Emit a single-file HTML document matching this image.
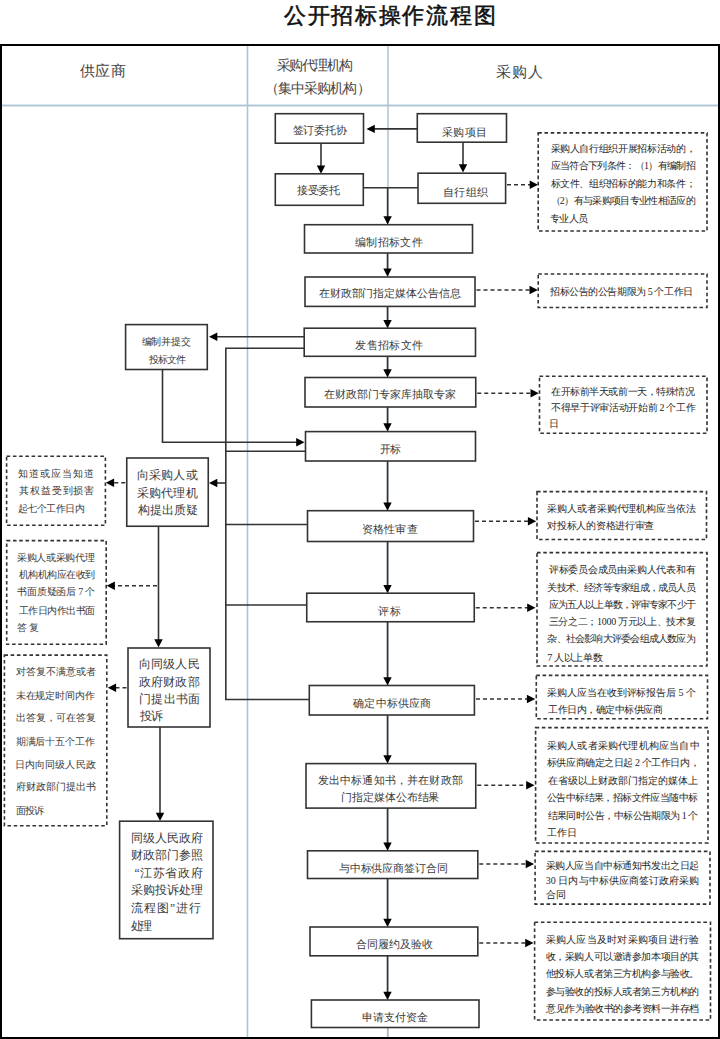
<!DOCTYPE html>
<html><head><meta charset="utf-8"><title>公开招标操作流程图</title>
<style>
html,body{margin:0;padding:0;background:#fff;}
body{width:720px;height:1039px;overflow:hidden;position:relative;font-family:"Liberation Serif", serif;}
svg{position:absolute;left:0;top:0;display:block;}
</style></head><body>
<svg width="720" height="1039" viewBox="0 0 720 1039">
<rect x="1" y="45" width="718" height="993" fill="none" stroke="#000" stroke-width="2"/>
<rect x="2" y="104" width="716" height="3" fill="#e6f3fa"/>
<rect x="246.5" y="46" width="2" height="991" fill="#eaf5fb"/>
<rect x="387" y="46" width="2" height="991" fill="#eaf5fb"/>
<line x1="2" y1="105.5" x2="718" y2="105.5" stroke="#b0c4ce" stroke-width="1.5"/>
<line x1="247.5" y1="46" x2="247.5" y2="1037" stroke="#b0c4ce" stroke-width="1.4"/>
<line x1="388" y1="46" x2="388" y2="1037" stroke="#b0c4ce" stroke-width="1.4"/>
<path d="M417.3,128.9 L373.8,128.9" fill="none" stroke="#333" stroke-width="1.6"/>
<polygon points="366.50,128.90 374.80,124.70 374.80,133.10" fill="#000"/>
<path d="M321,143.2 L321,166.5" fill="none" stroke="#333" stroke-width="1.6"/>
<polygon points="321.00,173.80 316.80,165.50 325.20,165.50" fill="#000"/>
<path d="M463,142.1 L463,165.2" fill="none" stroke="#333" stroke-width="1.6"/>
<polygon points="463.00,172.50 458.80,164.20 467.20,164.20" fill="#000"/>
<path d="M363.3,187.8 L418,187.8" fill="none" stroke="#333" stroke-width="1.6"/>
<path d="M387.6,187.8 L387.6,217.2" fill="none" stroke="#333" stroke-width="1.6"/>
<polygon points="387.60,224.50 383.40,216.20 391.80,216.20" fill="#000"/>
<path d="M505.5,184.8 L530.7,184.8" fill="none" stroke="#333" stroke-width="1.6" stroke-dasharray="4 3" stroke-dashoffset="-1.5"/>
<polygon points="538.00,184.80 529.70,180.60 529.70,189.00" fill="#000"/>
<path d="M387.5,253 L387.5,269.5" fill="none" stroke="#333" stroke-width="1.6"/>
<polygon points="387.50,276.80 383.30,268.50 391.70,268.50" fill="#000"/>
<path d="M475,290 L530.5,290" fill="none" stroke="#333" stroke-width="1.6" stroke-dasharray="4 3" stroke-dashoffset="-1.5"/>
<polygon points="537.80,290.00 529.50,285.80 529.50,294.20" fill="#000"/>
<path d="M387.5,306.5 L387.5,320.9" fill="none" stroke="#333" stroke-width="1.6"/>
<polygon points="387.50,328.20 383.30,319.90 391.70,319.90" fill="#000"/>
<path d="M304.2,336.7 L216.3,336.7" fill="none" stroke="#333" stroke-width="1.6"/>
<polygon points="209.00,336.70 217.30,332.50 217.30,340.90" fill="#000"/>
<path d="M304.2,348.3 L225.8,348.3 L225.8,699.5 L309.5,699.5" fill="none" stroke="#333" stroke-width="1.6"/>
<path d="M387.5,356.3 L387.5,370.2" fill="none" stroke="#333" stroke-width="1.6"/>
<polygon points="387.50,377.50 383.30,369.20 391.70,369.20" fill="#000"/>
<path d="M475.75,393.25 L531.5,393.25" fill="none" stroke="#333" stroke-width="1.6" stroke-dasharray="4 3" stroke-dashoffset="-1.5"/>
<polygon points="538.80,393.25 530.50,389.05 530.50,397.45" fill="#000"/>
<path d="M387.5,407 L387.5,424.2" fill="none" stroke="#333" stroke-width="1.6"/>
<polygon points="387.50,431.50 383.30,423.20 391.70,423.20" fill="#000"/>
<path d="M162.5,369.5 L162.5,442.2 L297.2,442.2" fill="none" stroke="#333" stroke-width="1.6"/>
<polygon points="304.50,442.20 296.20,438.00 296.20,446.40" fill="#000"/>
<path d="M225.8,451.3 L305.5,451.3" fill="none" stroke="#333" stroke-width="1.6"/>
<path d="M225.8,483 L216.3,483" fill="none" stroke="#333" stroke-width="1.6"/>
<polygon points="209.00,483.00 217.30,478.80 217.30,487.20" fill="#000"/>
<path d="M126.75,482.8 L113.1,482.8" fill="none" stroke="#333" stroke-width="1.6" stroke-dasharray="4 3" stroke-dashoffset="-1.5"/>
<polygon points="105.80,482.80 114.10,478.60 114.10,487.00" fill="#000"/>
<path d="M387.5,461 L387.5,503.4" fill="none" stroke="#333" stroke-width="1.6"/>
<polygon points="387.50,510.70 383.30,502.40 391.70,502.40" fill="#000"/>
<path d="M225.8,524.5 L307.5,524.5" fill="none" stroke="#333" stroke-width="1.6"/>
<path d="M473.5,521.25 L528.9000000000001,521.25" fill="none" stroke="#333" stroke-width="1.6" stroke-dasharray="4 3" stroke-dashoffset="-1.5"/>
<polygon points="536.20,521.25 527.90,517.05 527.90,525.45" fill="#000"/>
<path d="M158.5,526.25 L158.5,640.3000000000001" fill="none" stroke="#333" stroke-width="1.6"/>
<polygon points="158.50,647.60 154.30,639.30 162.70,639.30" fill="#000"/>
<path d="M158.5,585.8 L113.89999999999999,585.8" fill="none" stroke="#333" stroke-width="1.6" stroke-dasharray="4 3" stroke-dashoffset="-1.5"/>
<polygon points="106.60,585.80 114.90,581.60 114.90,590.00" fill="#000"/>
<path d="M387.5,541.5 L387.5,585.9000000000001" fill="none" stroke="#333" stroke-width="1.6"/>
<polygon points="387.50,593.20 383.30,584.90 391.70,584.90" fill="#000"/>
<path d="M225.8,605 L306.75,605" fill="none" stroke="#333" stroke-width="1.6"/>
<path d="M474.25,607.75 L528.2,607.75" fill="none" stroke="#333" stroke-width="1.6" stroke-dasharray="4 3" stroke-dashoffset="-1.5"/>
<polygon points="535.50,607.75 527.20,603.55 527.20,611.95" fill="#000"/>
<path d="M387.5,621.75 L387.5,678.2" fill="none" stroke="#333" stroke-width="1.6"/>
<polygon points="387.50,685.50 383.30,677.20 391.70,677.20" fill="#000"/>
<path d="M128,687.8 L115.1,687.8" fill="none" stroke="#333" stroke-width="1.6" stroke-dasharray="4 3" stroke-dashoffset="-1.5"/>
<polygon points="107.80,687.80 116.10,683.60 116.10,692.00" fill="#000"/>
<path d="M160,727 L160,813.7" fill="none" stroke="#333" stroke-width="1.6"/>
<polygon points="160.00,821.00 155.80,812.70 164.20,812.70" fill="#000"/>
<path d="M474.5,699 L527.9000000000001,699" fill="none" stroke="#333" stroke-width="1.6" stroke-dasharray="4 3" stroke-dashoffset="-1.5"/>
<polygon points="535.20,699.00 526.90,694.80 526.90,703.20" fill="#000"/>
<path d="M387.5,715 L387.5,756.2" fill="none" stroke="#333" stroke-width="1.6"/>
<polygon points="387.50,763.50 383.30,755.20 391.70,755.20" fill="#000"/>
<path d="M475.75,785.2 L527.2,785.2" fill="none" stroke="#333" stroke-width="1.6" stroke-dasharray="4 3" stroke-dashoffset="-1.5"/>
<polygon points="534.50,785.20 526.20,781.00 526.20,789.40" fill="#000"/>
<path d="M387.5,808 L387.5,843.5" fill="none" stroke="#333" stroke-width="1.6"/>
<polygon points="387.50,850.80 383.30,842.50 391.70,842.50" fill="#000"/>
<path d="M477.8,864 L526.7,864" fill="none" stroke="#333" stroke-width="1.6" stroke-dasharray="4 3" stroke-dashoffset="-1.5"/>
<polygon points="534.00,864.00 525.70,859.80 525.70,868.20" fill="#000"/>
<path d="M387.5,878.5 L387.5,919.7" fill="none" stroke="#333" stroke-width="1.6"/>
<polygon points="387.50,927.00 383.30,918.70 391.70,918.70" fill="#000"/>
<path d="M477.8,943 L526.2,943" fill="none" stroke="#333" stroke-width="1.6" stroke-dasharray="4 3" stroke-dashoffset="-1.5"/>
<polygon points="533.50,943.00 525.20,938.80 525.20,947.20" fill="#000"/>
<path d="M387.5,955.8 L387.5,992.7" fill="none" stroke="#333" stroke-width="1.6"/>
<polygon points="387.50,1000.00 383.30,991.70 391.70,991.70" fill="#000"/>
<path d="M387.5,1027.5 L387.5,1037" fill="none" stroke="#9fb6c4" stroke-width="1.2"/>
<rect x="275.3" y="113.7" width="88.20" height="29.50" fill="#fff" stroke="#333" stroke-width="1.6"/>
<rect x="275.3" y="173.8" width="88.00" height="31.50" fill="#fff" stroke="#333" stroke-width="1.6"/>
<rect x="417.3" y="113.7" width="89.20" height="28.50" fill="#fff" stroke="#333" stroke-width="1.6"/>
<rect x="418" y="173.2" width="87.60" height="30.10" fill="#fff" stroke="#333" stroke-width="1.6"/>
<rect x="304.5" y="224.7" width="168.00" height="28.30" fill="#fff" stroke="#333" stroke-width="1.6"/>
<rect x="305" y="277" width="170.00" height="29.40" fill="#fff" stroke="#333" stroke-width="1.6"/>
<rect x="304.2" y="328.2" width="171.30" height="28.10" fill="#fff" stroke="#333" stroke-width="1.6"/>
<rect x="305" y="377.5" width="170.75" height="29.50" fill="#fff" stroke="#333" stroke-width="1.6"/>
<rect x="305.5" y="431.6" width="170.00" height="29.40" fill="#fff" stroke="#333" stroke-width="1.6"/>
<rect x="307.5" y="510.7" width="166.00" height="30.80" fill="#fff" stroke="#333" stroke-width="1.6"/>
<rect x="306.75" y="593.2" width="167.50" height="28.55" fill="#fff" stroke="#333" stroke-width="1.6"/>
<rect x="309.3" y="685.5" width="165.10" height="29.50" fill="#fff" stroke="#333" stroke-width="1.6"/>
<rect x="306" y="763.6" width="169.75" height="44.50" fill="#fff" stroke="#333" stroke-width="1.6"/>
<rect x="307.5" y="850.8" width="170.30" height="27.70" fill="#fff" stroke="#333" stroke-width="1.6"/>
<rect x="310" y="927" width="167.80" height="28.80" fill="#fff" stroke="#333" stroke-width="1.6"/>
<rect x="311.4" y="1000" width="167.60" height="27.50" fill="#fff" stroke="#333" stroke-width="1.6"/>
<rect x="125.6" y="324.6" width="81.70" height="44.90" fill="#fff" stroke="#333" stroke-width="1.6"/>
<rect x="126.75" y="458" width="81.50" height="68.25" fill="#fff" stroke="#333" stroke-width="1.6"/>
<rect x="128" y="648" width="82.00" height="79.00" fill="#fff" stroke="#333" stroke-width="1.6"/>
<rect x="119.6" y="821.2" width="93.40" height="117.50" fill="#fff" stroke="#333" stroke-width="1.6"/>
<rect x="538.2" y="132.9" width="168.80" height="98.10" fill="none" stroke="#333" stroke-width="1.6" stroke-dasharray="3.6 2.65"/>
<rect x="538.2" y="274" width="168.80" height="33.50" fill="none" stroke="#333" stroke-width="1.6" stroke-dasharray="3.6 2.65"/>
<rect x="539.5" y="376.3" width="167.50" height="56.90" fill="none" stroke="#333" stroke-width="1.6" stroke-dasharray="3.6 2.65"/>
<rect x="537" y="491.6" width="169.50" height="47.90" fill="none" stroke="#333" stroke-width="1.6" stroke-dasharray="3.6 2.65"/>
<rect x="537" y="552.6" width="170.00" height="113.40" fill="none" stroke="#333" stroke-width="1.6" stroke-dasharray="3.6 2.65"/>
<rect x="536.3" y="675.4" width="171.20" height="43.30" fill="none" stroke="#333" stroke-width="1.6" stroke-dasharray="3.6 2.65"/>
<rect x="535.6" y="727.6" width="172.40" height="115.40" fill="none" stroke="#333" stroke-width="1.6" stroke-dasharray="3.6 2.65"/>
<rect x="535.1" y="851.4" width="174.90" height="52.70" fill="none" stroke="#333" stroke-width="1.6" stroke-dasharray="3.6 2.65"/>
<rect x="534.6" y="922.2" width="175.90" height="97.80" fill="none" stroke="#333" stroke-width="1.6" stroke-dasharray="3.6 2.65"/>
<rect x="6.6" y="456.2" width="98.80" height="69.00" fill="none" stroke="#333" stroke-width="1.6" stroke-dasharray="3.6 2.65"/>
<rect x="6.7" y="540.6" width="99.50" height="103.70" fill="none" stroke="#333" stroke-width="1.6" stroke-dasharray="3.6 2.65"/>
<rect x="4.4" y="655.1" width="102.40" height="170.60" fill="none" stroke="#333" stroke-width="1.6" stroke-dasharray="3.6 2.65"/>
<text x="283.80" y="15.00" font-size="22" fill="#111" font-weight="normal" style="font-family:'Liberation Sans', sans-serif" dominant-baseline="central" textLength="211.72" lengthAdjust="spacing" stroke="#111" stroke-width="0.55">公开招标操作流程图</text>
<text x="79.80" y="70.70" font-size="15" fill="#444" font-weight="normal" style="font-family:'Liberation Serif', serif" dominant-baseline="central" textLength="45.90" lengthAdjust="spacing">供应商</text>
<text x="276.80" y="65.16" font-size="14" fill="#444" font-weight="normal" style="font-family:'Liberation Serif', serif" dominant-baseline="central" textLength="76.40" lengthAdjust="spacing">采购代理机构</text>
<text x="264.90" y="88.00" font-size="14" fill="#444" font-weight="normal" style="font-family:'Liberation Serif', serif" dominant-baseline="central" textLength="105.62" lengthAdjust="spacing">（集中采购机构）</text>
<text x="495.72" y="72.00" font-size="15" fill="#444" font-weight="normal" style="font-family:'Liberation Serif', serif" dominant-baseline="central" textLength="47.10" lengthAdjust="spacing">采购人</text>
<text x="292.62" y="130.38" font-size="11" fill="#3a3a3a" font-weight="normal" style="font-family:'Liberation Serif', serif" dominant-baseline="central" textLength="53.92" lengthAdjust="spacing">签订委托协</text>
<text x="297.38" y="190.26" font-size="11" fill="#3a3a3a" font-weight="normal" style="font-family:'Liberation Serif', serif" dominant-baseline="central" textLength="42.58" lengthAdjust="spacing">接受委托</text>
<text x="442.18" y="131.58" font-size="11" fill="#3a3a3a" font-weight="normal" style="font-family:'Liberation Serif', serif" dominant-baseline="central" textLength="44.84" lengthAdjust="spacing">采购项目</text>
<text x="442.98" y="191.58" font-size="11" fill="#3a3a3a" font-weight="normal" style="font-family:'Liberation Serif', serif" dominant-baseline="central" textLength="45.34" lengthAdjust="spacing">自行组织</text>
<text x="354.80" y="241.80" font-size="11" fill="#3a3a3a" font-weight="normal" style="font-family:'Liberation Serif', serif" dominant-baseline="central" textLength="67.85" lengthAdjust="spacing">编制招标文件</text>
<text x="318.80" y="293.05" font-size="11" fill="#3a3a3a" font-weight="normal" style="font-family:'Liberation Serif', serif" dominant-baseline="central" textLength="141.90" lengthAdjust="spacing">在财政部门指定媒体公告信息</text>
<text x="355.40" y="345.05" font-size="11" fill="#3a3a3a" font-weight="normal" style="font-family:'Liberation Serif', serif" dominant-baseline="central" textLength="67.80" lengthAdjust="spacing">发售招标文件</text>
<text x="324.30" y="394.30" font-size="11" fill="#3a3a3a" font-weight="normal" style="font-family:'Liberation Serif', serif" dominant-baseline="central" textLength="131.40" lengthAdjust="spacing">在财政部门专家库抽取专家</text>
<text x="380.00" y="448.75" font-size="11" fill="#3a3a3a" font-weight="normal" style="font-family:'Liberation Serif', serif" dominant-baseline="central" textLength="21.25" lengthAdjust="spacing">开标</text>
<text x="361.80" y="528.75" font-size="11" fill="#3a3a3a" font-weight="normal" style="font-family:'Liberation Serif', serif" dominant-baseline="central" textLength="55.90" lengthAdjust="spacing">资格性审查</text>
<text x="377.90" y="610.55" font-size="11" fill="#3a3a3a" font-weight="normal" style="font-family:'Liberation Serif', serif" dominant-baseline="central" textLength="23.35" lengthAdjust="spacing">评标</text>
<text x="353.25" y="703.25" font-size="11" fill="#3a3a3a" font-weight="normal" style="font-family:'Liberation Serif', serif" dominant-baseline="central" textLength="77.95" lengthAdjust="spacing">确定中标供应商</text>
<text x="317.90" y="780.00" font-size="11" fill="#3a3a3a" font-weight="normal" style="font-family:'Liberation Serif', serif" dominant-baseline="central" textLength="144.75" lengthAdjust="spacing">发出中标通知书，并在财政部</text>
<text x="341.30" y="797.30" font-size="11" fill="#3a3a3a" font-weight="normal" style="font-family:'Liberation Serif', serif" dominant-baseline="central" textLength="98.15" lengthAdjust="spacing">门指定媒体公布结果</text>
<text x="338.75" y="867.55" font-size="11" fill="#3a3a3a" font-weight="normal" style="font-family:'Liberation Serif', serif" dominant-baseline="central" textLength="108.90" lengthAdjust="spacing">与中标供应商签订合同</text>
<text x="355.55" y="944.30" font-size="11" fill="#3a3a3a" font-weight="normal" style="font-family:'Liberation Serif', serif" dominant-baseline="central" textLength="77.10" lengthAdjust="spacing">合同履约及验收</text>
<text x="361.80" y="1016.80" font-size="11" fill="#3a3a3a" font-weight="normal" style="font-family:'Liberation Serif', serif" dominant-baseline="central" textLength="66.40" lengthAdjust="spacing">申请支付资金</text>
<text x="141.72" y="341.38" font-size="10" fill="#3a3a3a" font-weight="normal" style="font-family:'Liberation Serif', serif" dominant-baseline="central" textLength="49.10" lengthAdjust="spacing">编制并提交</text>
<text x="148.54" y="359.04" font-size="10" fill="#3a3a3a" font-weight="normal" style="font-family:'Liberation Serif', serif" dominant-baseline="central" textLength="37.04" lengthAdjust="spacing">投标文件</text>
<text x="136.80" y="475.00" font-size="11.5" fill="#3a3a3a" font-weight="normal" style="font-family:'Liberation Serif', serif" dominant-baseline="central" textLength="60.85" lengthAdjust="spacing">向采购人或</text>
<text x="136.80" y="492.62" font-size="11.5" fill="#3a3a3a" font-weight="normal" style="font-family:'Liberation Serif', serif" dominant-baseline="central" textLength="60.85" lengthAdjust="spacing">采购代理机</text>
<text x="137.50" y="509.54" font-size="11.5" fill="#3a3a3a" font-weight="normal" style="font-family:'Liberation Serif', serif" dominant-baseline="central" textLength="60.15" lengthAdjust="spacing">构提出质疑</text>
<text x="138.80" y="663.55" font-size="11.5" fill="#3a3a3a" font-weight="normal" style="font-family:'Liberation Serif', serif" dominant-baseline="central" textLength="60.85" lengthAdjust="spacing">向同级人民</text>
<text x="138.80" y="681.79" font-size="11.5" fill="#3a3a3a" font-weight="normal" style="font-family:'Liberation Serif', serif" dominant-baseline="central" textLength="60.85" lengthAdjust="spacing">政府财政部</text>
<text x="138.80" y="699.33" font-size="11.5" fill="#3a3a3a" font-weight="normal" style="font-family:'Liberation Serif', serif" dominant-baseline="central" textLength="61.55" lengthAdjust="spacing">门提出书面</text>
<text x="139.50" y="716.17" font-size="11.5" fill="#3a3a3a" font-weight="normal" style="font-family:'Liberation Serif', serif" dominant-baseline="central" textLength="23.15" lengthAdjust="spacing">投诉</text>
<text x="130.55" y="837.50" font-size="11.5" fill="#3a3a3a" font-weight="normal" style="font-family:'Liberation Serif', serif" dominant-baseline="central" textLength="72.10" lengthAdjust="spacing">同级人民政府</text>
<text x="130.55" y="855.00" font-size="11.5" fill="#3a3a3a" font-weight="normal" style="font-family:'Liberation Serif', serif" dominant-baseline="central" textLength="72.10" lengthAdjust="spacing">财政部门参照</text>
<text x="134.45" y="872.50" font-size="11.5" fill="#3a3a3a" font-weight="normal" style="font-family:'Liberation Serif', serif" dominant-baseline="central" textLength="68.20" lengthAdjust="spacing">“江苏省政府</text>
<text x="130.55" y="890.00" font-size="11.5" fill="#3a3a3a" font-weight="normal" style="font-family:'Liberation Serif', serif" dominant-baseline="central" textLength="72.10" lengthAdjust="spacing">采购投诉处理</text>
<text x="130.55" y="907.50" font-size="11.5" fill="#3a3a3a" font-weight="normal" style="font-family:'Liberation Serif', serif" dominant-baseline="central" textLength="70.70" lengthAdjust="spacing">流程图”进行</text>
<text x="130.55" y="925.70" font-size="11.5" fill="#3a3a3a" font-weight="normal" style="font-family:'Liberation Serif', serif" dominant-baseline="central" textLength="21.90" lengthAdjust="spacing">处理</text>
<text x="17.64" y="473.12" font-size="10" fill="#3a3a3a" font-weight="normal" style="font-family:'Liberation Serif', serif" dominant-baseline="central" textLength="76.60" lengthAdjust="spacing">知道或应当知道</text>
<text x="19.04" y="490.25" font-size="10" fill="#3a3a3a" font-weight="normal" style="font-family:'Liberation Serif', serif" dominant-baseline="central" textLength="75.20" lengthAdjust="spacing">其权益受到损害</text>
<text x="17.64" y="508.08" font-size="10" fill="#3a3a3a" font-weight="normal" style="font-family:'Liberation Serif', serif" dominant-baseline="central" textLength="67.14" lengthAdjust="spacing">起七个工作日内</text>
<text x="17.18" y="557.00" font-size="10" fill="#3a3a3a" font-weight="normal" style="font-family:'Liberation Serif', serif" dominant-baseline="central" textLength="77.36" lengthAdjust="spacing">采购人或采购代理</text>
<text x="18.58" y="574.46" font-size="10" fill="#3a3a3a" font-weight="normal" style="font-family:'Liberation Serif', serif" dominant-baseline="central" textLength="76.66" lengthAdjust="spacing">机构机构应在收到</text>
<text x="17.18" y="591.92" font-size="10" fill="#3a3a3a" font-weight="normal" style="font-family:'Liberation Serif', serif" dominant-baseline="central" textLength="78.06" lengthAdjust="spacing">书面质疑函后 7 个</text>
<text x="18.58" y="610.08" font-size="10" fill="#3a3a3a" font-weight="normal" style="font-family:'Liberation Serif', serif" dominant-baseline="central" textLength="76.66" lengthAdjust="spacing">工作日内作出书面</text>
<text x="17.18" y="627.54" font-size="10" fill="#3a3a3a" font-weight="normal" style="font-family:'Liberation Serif', serif" dominant-baseline="central" textLength="21.52" lengthAdjust="spacing">答复</text>
<text x="15.68" y="671.80" font-size="10" fill="#3a3a3a" font-weight="normal" style="font-family:'Liberation Serif', serif" dominant-baseline="central" textLength="80.02" lengthAdjust="spacing">对答复不满意或者</text>
<text x="15.68" y="695.24" font-size="10" fill="#3a3a3a" font-weight="normal" style="font-family:'Liberation Serif', serif" dominant-baseline="central" textLength="79.32" lengthAdjust="spacing">未在规定时间内作</text>
<text x="15.68" y="717.97" font-size="10" fill="#3a3a3a" font-weight="normal" style="font-family:'Liberation Serif', serif" dominant-baseline="central" textLength="80.02" lengthAdjust="spacing">出答复，可在答复</text>
<text x="15.68" y="741.41" font-size="10" fill="#3a3a3a" font-weight="normal" style="font-family:'Liberation Serif', serif" dominant-baseline="central" textLength="79.32" lengthAdjust="spacing">期满后十五个工作</text>
<text x="14.98" y="764.14" font-size="10" fill="#3a3a3a" font-weight="normal" style="font-family:'Liberation Serif', serif" dominant-baseline="central" textLength="80.72" lengthAdjust="spacing">日内向同级人民政</text>
<text x="15.68" y="786.88" font-size="10" fill="#3a3a3a" font-weight="normal" style="font-family:'Liberation Serif', serif" dominant-baseline="central" textLength="80.02" lengthAdjust="spacing">府财政部门提出书</text>
<text x="16.38" y="810.32" font-size="10" fill="#3a3a3a" font-weight="normal" style="font-family:'Liberation Serif', serif" dominant-baseline="central" textLength="27.62" lengthAdjust="spacing">面投诉</text>
<text x="550.50" y="148.75" font-size="10" fill="#262626" font-weight="normal" style="font-family:'Liberation Serif', serif" dominant-baseline="central" textLength="145.20" lengthAdjust="spacing">采购人自行组织开展招标活动的，</text>
<text x="550.50" y="165.92" font-size="10" fill="#262626" font-weight="normal" style="font-family:'Liberation Serif', serif" dominant-baseline="central" textLength="145.20" lengthAdjust="spacing">应当符合下列条件：（1）有编制招</text>
<text x="550.50" y="183.79" font-size="10" fill="#262626" font-weight="normal" style="font-family:'Liberation Serif', serif" dominant-baseline="central" textLength="145.20" lengthAdjust="spacing">标文件、组织招标的能力和条件；</text>
<text x="550.50" y="200.96" font-size="10" fill="#262626" font-weight="normal" style="font-family:'Liberation Serif', serif" dominant-baseline="central" textLength="145.20" lengthAdjust="spacing">（2）有与采购项目专业性相适应的</text>
<text x="549.80" y="218.83" font-size="10" fill="#262626" font-weight="normal" style="font-family:'Liberation Serif', serif" dominant-baseline="central" textLength="38.40" lengthAdjust="spacing">专业人员</text>
<text x="550.00" y="291.00" font-size="10" fill="#262626" font-weight="normal" style="font-family:'Liberation Serif', serif" dominant-baseline="central" textLength="143.10" lengthAdjust="spacing">招标公告的公告期限为 5 个工作日</text>
<text x="551.00" y="391.25" font-size="10" fill="#262626" font-weight="normal" style="font-family:'Liberation Serif', serif" dominant-baseline="central" textLength="144.00" lengthAdjust="spacing">在开标前半天或前一天，特殊情况</text>
<text x="551.00" y="407.25" font-size="10" fill="#262626" font-weight="normal" style="font-family:'Liberation Serif', serif" dominant-baseline="central" textLength="144.70" lengthAdjust="spacing">不得早于评审活动开始前 2 个工作</text>
<text x="548.90" y="423.95" font-size="10" fill="#262626" font-weight="normal" style="font-family:'Liberation Serif', serif" dominant-baseline="central" textLength="25.80" lengthAdjust="spacing">日</text>
<text x="547.35" y="508.75" font-size="10" fill="#262626" font-weight="normal" style="font-family:'Liberation Serif', serif" dominant-baseline="central" textLength="148.35" lengthAdjust="spacing">采购人或者采购代理机构应当依法</text>
<text x="547.35" y="525.00" font-size="10" fill="#262626" font-weight="normal" style="font-family:'Liberation Serif', serif" dominant-baseline="central" textLength="107.10" lengthAdjust="spacing">对投标人的资格进行审查</text>
<text x="548.75" y="569.30" font-size="10" fill="#262626" font-weight="normal" style="font-family:'Liberation Serif', serif" dominant-baseline="central" textLength="146.95" lengthAdjust="spacing">评标委员会成员由采购人代表和有</text>
<text x="547.35" y="587.54" font-size="10" fill="#262626" font-weight="normal" style="font-family:'Liberation Serif', serif" dominant-baseline="central" textLength="148.35" lengthAdjust="spacing">关技术、经济等专家组成，成员人员</text>
<text x="548.75" y="604.38" font-size="10" fill="#262626" font-weight="normal" style="font-family:'Liberation Serif', serif" dominant-baseline="central" textLength="146.95" lengthAdjust="spacing">应为五人以上单数，评审专家不少于</text>
<text x="548.75" y="621.92" font-size="10" fill="#262626" font-weight="normal" style="font-family:'Liberation Serif', serif" dominant-baseline="central" textLength="146.95" lengthAdjust="spacing">三分之二；1000 万元以上、技术复</text>
<text x="547.35" y="638.76" font-size="10" fill="#262626" font-weight="normal" style="font-family:'Liberation Serif', serif" dominant-baseline="central" textLength="148.35" lengthAdjust="spacing">杂、社会影响大评委会组成人数应为</text>
<text x="547.35" y="657.00" font-size="10" fill="#262626" font-weight="normal" style="font-family:'Liberation Serif', serif" dominant-baseline="central" textLength="55.30" lengthAdjust="spacing">7 人以上单数</text>
<text x="547.35" y="692.50" font-size="10" fill="#262626" font-weight="normal" style="font-family:'Liberation Serif', serif" dominant-baseline="central" textLength="148.35" lengthAdjust="spacing">采购人应当在收到评标报告后 5 个</text>
<text x="548.05" y="709.50" font-size="10" fill="#262626" font-weight="normal" style="font-family:'Liberation Serif', serif" dominant-baseline="central" textLength="114.60" lengthAdjust="spacing">工作日内，确定中标供应商</text>
<text x="546.80" y="745.00" font-size="10" fill="#262626" font-weight="normal" style="font-family:'Liberation Serif', serif" dominant-baseline="central" textLength="152.80" lengthAdjust="spacing">采购人或者采购代理机构应当自中</text>
<text x="546.80" y="762.17" font-size="10" fill="#262626" font-weight="normal" style="font-family:'Liberation Serif', serif" dominant-baseline="central" textLength="152.80" lengthAdjust="spacing">标供应商确定之日起 2 个工作日内，</text>
<text x="547.50" y="780.04" font-size="10" fill="#262626" font-weight="normal" style="font-family:'Liberation Serif', serif" dominant-baseline="central" textLength="150.70" lengthAdjust="spacing">在省级以上财政部门指定的媒体上</text>
<text x="546.80" y="797.21" font-size="10" fill="#262626" font-weight="normal" style="font-family:'Liberation Serif', serif" dominant-baseline="central" textLength="151.40" lengthAdjust="spacing">公告中标结果，招标文件应当随中标</text>
<text x="547.50" y="815.08" font-size="10" fill="#262626" font-weight="normal" style="font-family:'Liberation Serif', serif" dominant-baseline="central" textLength="150.70" lengthAdjust="spacing">结果同时公告，中标公告期限为 1 个</text>
<text x="546.80" y="832.95" font-size="10" fill="#262626" font-weight="normal" style="font-family:'Liberation Serif', serif" dominant-baseline="central" textLength="29.80" lengthAdjust="spacing">工作日</text>
<text x="545.72" y="865.46" font-size="10" fill="#262626" font-weight="normal" style="font-family:'Liberation Serif', serif" dominant-baseline="central" textLength="153.52" lengthAdjust="spacing">采购人应当自中标通知书发出之日起</text>
<text x="545.72" y="880.00" font-size="10" fill="#262626" font-weight="normal" style="font-family:'Liberation Serif', serif" dominant-baseline="central" textLength="153.52" lengthAdjust="spacing">30 日内与中标供应商签订政府采购</text>
<text x="546.42" y="894.54" font-size="10" fill="#262626" font-weight="normal" style="font-family:'Liberation Serif', serif" dominant-baseline="central" textLength="19.40" lengthAdjust="spacing">合同</text>
<text x="545.72" y="939.46" font-size="10" fill="#262626" font-weight="normal" style="font-family:'Liberation Serif', serif" dominant-baseline="central" textLength="153.52" lengthAdjust="spacing">采购人应当及时对采购项目进行验</text>
<text x="545.72" y="956.96" font-size="10" fill="#262626" font-weight="normal" style="font-family:'Liberation Serif', serif" dominant-baseline="central" textLength="153.52" lengthAdjust="spacing">收，采购人可以邀请参加本项目的其</text>
<text x="545.72" y="973.76" font-size="10" fill="#262626" font-weight="normal" style="font-family:'Liberation Serif', serif" dominant-baseline="central" textLength="153.52" lengthAdjust="spacing">他投标人或者第三方机构参与验收。</text>
<text x="545.72" y="991.96" font-size="10" fill="#262626" font-weight="normal" style="font-family:'Liberation Serif', serif" dominant-baseline="central" textLength="153.52" lengthAdjust="spacing">参与验收的投标人或者第三方机构的</text>
<text x="546.42" y="1008.76" font-size="10" fill="#262626" font-weight="normal" style="font-family:'Liberation Serif', serif" dominant-baseline="central" textLength="152.82" lengthAdjust="spacing">意见作为验收书的参考资料一并存档</text>
</svg>
</body></html>
